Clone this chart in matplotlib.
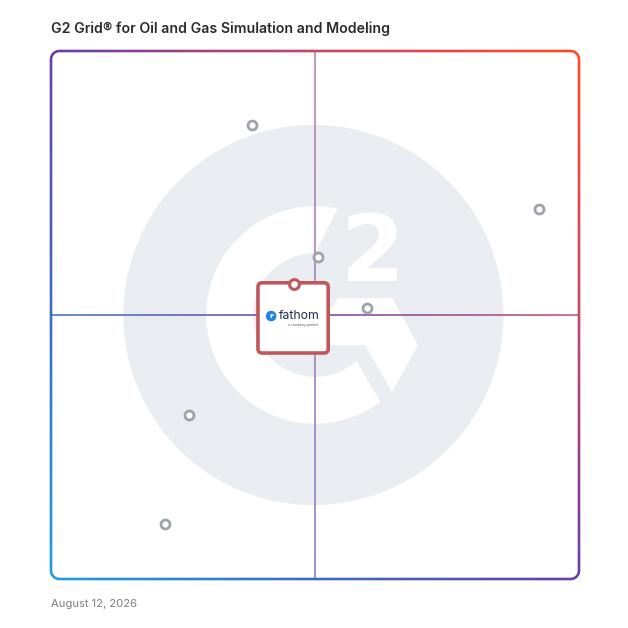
import numpy as np
import matplotlib
matplotlib.use("Agg")
import matplotlib.pyplot as plt
from matplotlib.collections import LineCollection
from matplotlib.colors import LinearSegmentedColormap
from matplotlib.patches import Circle, Polygon, FancyBboxPatch, PathPatch
from matplotlib.path import Path

# --- data (market presence on x, satisfaction on y, 0-100) ---
title = "G2 Grid\u00ae for Oil and Gas Simulation and Modeling"
date_label = "August 12, 2026"
product_x = [38.0, 92.4, 50.6, 59.9, 26.1, 21.6]
product_y = [85.9, 70.1, 61.0, 51.3, 31.1, 10.4]
focus_name = "fathom"
focus_x = 46.1
focus_y = 55.9

# gradient used for the frame and the quadrant lines
grad = LinearSegmentedColormap.from_list(
    "g2", [(0.0, "#1f9fd9"), (0.25, "#3b6cc5"), (0.5, "#6b3fa6"),
           (0.75, "#c9456b"), (1.0, "#ff4b26")])
vgrad = LinearSegmentedColormap.from_list("g2v", ["#8272c2", "#b87cae"])

fig = plt.figure(figsize=(6.28, 6.28), dpi=100)
fig.patch.set_facecolor("white")
ax = fig.add_axes([51 / 628, 49 / 628, 528 / 628, 528 / 628])
ax.axis("off")


def gradient_line(xs, ys, cmap, tvals, lw, z):
    pts = np.column_stack([xs, ys]).reshape(-1, 1, 2)
    segs = np.concatenate([pts[:-1], pts[1:]], axis=1)
    lc = LineCollection(segs, colors=cmap(tvals[:-1]), linewidths=lw,
                        zorder=z, clip_on=False, capstyle="butt")
    ax.add_collection(lc)


def rounded_rect(off, rad):
    out = []
    lo, hi = -off, 100 + off
    for cx, cy, a0 in [(hi - rad, hi - rad, 0), (lo + rad, hi - rad, 90),
                       (lo + rad, lo + rad, 180), (hi - rad, lo + rad, 270)]:
        for a in np.radians(np.linspace(a0, a0 + 90, 16)):
            out.append((cx + rad * np.cos(a), cy + rad * np.sin(a)))
    out.append(out[0])
    return np.array(out)


# watermark: grey disc + white G2 logo
ax.add_patch(Circle((49.7, 50), 36.0, color="#e9ecf0", lw=0, zorder=1))
r_out, r_in = 20.6, 11.7
a_out = np.radians(np.linspace(78, 307, 120))
a_in = np.radians(np.linspace(312, 90, 120))
ring = np.vstack([np.column_stack([50 + r_out * np.cos(a_out), 50 + r_out * np.sin(a_out)]),
                  np.column_stack([50 + r_in * np.cos(a_in), 50 + r_in * np.sin(a_in)])])
ax.add_patch(Polygon(ring, closed=True, color="white", lw=0, zorder=2))
chevron = [(54.4, 53.2), (64.6, 53.2), (69.5, 44.3), (64.6, 35.4),
           (59.5, 44.3), (52.0, 44.3), (52.0, 50.0)]
ax.add_patch(Polygon(chevron, closed=True, color="white", lw=0, zorder=2))
ax.text(61.0, 61.3, "2", color="white", fontsize=66, fontweight="bold",
        family="DejaVu Sans", ha="center", va="center", zorder=2)

# rounded frame: gradient image clipped to a ring between two rounded rects
r = 1.6
half = 0.25
outer = rounded_rect(half, r + half)
inner = rounded_rect(-half, r - half)[::-1]
verts = np.vstack([outer, inner])
codes = ([Path.MOVETO] + [Path.LINETO] * (len(outer) - 2) + [Path.CLOSEPOLY]
         + [Path.MOVETO] + [Path.LINETO] * (len(inner) - 2) + [Path.CLOSEPOLY])
frame = PathPatch(Path(verts, codes), facecolor="none", edgecolor="none",
                  transform=ax.transData)
ax.add_patch(frame)
gx, gy = np.meshgrid(np.linspace(-1, 101, 300), np.linspace(-1, 101, 300))
im = ax.imshow((gx + gy) / 200, cmap=grad, vmin=0, vmax=1, origin="lower",
               extent=[-1, 101, -1, 101], aspect="auto", zorder=5,
               interpolation="bilinear")
im.set_clip_box(fig.bbox)
im.set_clip_path(frame)

ax.set_xlim(0, 100)
ax.set_ylim(0, 100)

# quadrant lines
hx = np.linspace(0, 100, 300)
gradient_line(hx, np.full_like(hx, 50), grad, 0.25 + hx / 200, 1.1, 3)
vy = np.linspace(0, 100, 300)
gradient_line(np.full_like(vy, 50), vy, vgrad, vy / 100, 1.1, 3)

# products
ax.scatter(product_x, product_y, s=42, facecolor="white", edgecolor="#9ea3ab",
           linewidth=2.0, zorder=6)

# highlighted product card
box = FancyBboxPatch((focus_x - 6.9, focus_y - 13.1), 13.3, 13.3,
                     boxstyle="round,pad=0,rounding_size=0.8",
                     facecolor="white", edgecolor="#c0575a", lw=2.6, zorder=7)
ax.add_patch(box)
ax.scatter([focus_x], [focus_y], s=50, facecolor="white", edgecolor="#c0575a",
           linewidth=2.2, zorder=8)
ax.add_patch(Circle((focus_x - 4.4, focus_y - 6.1), 1.0, color="#1f86e0", lw=0, zorder=8))
ax.text(focus_x - 4.4, focus_y - 6.15, "F", color="white", fontsize=4.5,
        fontweight="bold", ha="center", va="center", zorder=9)
ax.text(focus_x - 3.0, focus_y - 6.0, focus_name, color="#1d2a4d", fontsize=8.8,
        family="Inter", ha="left", va="center", zorder=9)
ax.text(focus_x + 4.6, focus_y - 7.7, "a company product", color="#5a6275",
        fontsize=2.3, ha="right", va="center", zorder=9)

# title and date
fig.text(51 / 628, 1 - 29 / 628, title, fontsize=10.2, fontweight="semibold",
         family="Inter", color="#2a2a2e", ha="left", va="center")
fig.text(51 / 628, 1 - 604 / 628, date_label, fontsize=8.1, family="Inter",
         color="#7c7f86", ha="left", va="center")

fig.savefig("out.png", dpi=100, facecolor="white")
